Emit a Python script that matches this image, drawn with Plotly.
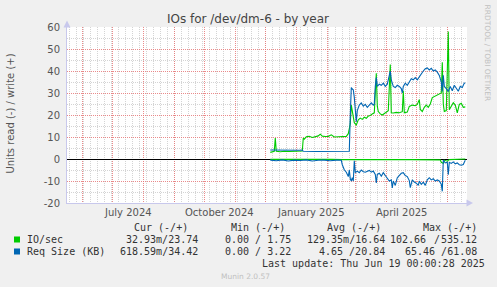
import plotly.graph_objects as go

# ---------------- data ----------------
io_write_dates = ["2024-12-06","2024-12-08","2024-12-10","2024-12-11","2024-12-12","2024-12-16","2024-12-20","2024-12-25","2024-12-30","2025-01-04","2025-01-07","2025-01-08","2025-01-09","2025-01-11","2025-01-14","2025-01-17","2025-01-20","2025-01-23","2025-01-25","2025-01-27","2025-01-30","2025-02-02","2025-02-05","2025-02-08","2025-02-12","2025-02-16","2025-02-20","2025-02-22","2025-02-24","2025-02-25","2025-02-26","2025-02-28","2025-03-02","2025-03-04","2025-03-06","2025-03-08","2025-03-10","2025-03-12","2025-03-14","2025-03-16","2025-03-18","2025-03-20","2025-03-22","2025-03-23","2025-03-24","2025-03-26","2025-03-28","2025-03-30","2025-04-01","2025-04-03","2025-04-05","2025-04-06","2025-04-08","2025-04-11","2025-04-14","2025-04-17","2025-04-18","2025-04-19","2025-04-22","2025-04-24","2025-04-27","2025-04-30","2025-05-02","2025-05-04","2025-05-05","2025-05-07","2025-05-09","2025-05-11","2025-05-13","2025-05-15","2025-05-17","2025-05-20","2025-05-23","2025-05-25","2025-05-26","2025-05-27","2025-05-28","2025-05-29","2025-05-31","2025-06-02","2025-06-03","2025-06-05","2025-06-07","2025-06-09","2025-06-11","2025-06-13","2025-06-15","2025-06-17","2025-06-19"]
io_write = [3.0,3.4,3.5,9.5,3.5,3.3,3.5,3.4,3.5,3.4,3.6,9.5,9.0,10.1,10.3,9.8,10.2,10.5,11.3,10.4,10.2,10.3,11.0,10.0,10.1,10.2,10.3,11.5,16,24.5,21,16.5,15.5,17.8,18.6,18.0,19.0,18.5,19.5,19.8,20.5,21.0,39,24,21.6,20.5,20.0,20.7,21,22,43,21,20.9,21.2,21.0,21.5,31,21,21.3,23.9,24.5,24.2,24.8,27,22.5,21.6,23.5,24.5,23.5,25,27.9,28.5,29.2,29.5,30,44,25,21.6,22,58,22.4,24,25.6,24.5,21,24.8,25.3,23.5,23.7]

io_read_dates = ["2024-12-06","2024-12-20","2025-01-05","2025-01-20","2025-02-05","2025-02-16","2025-02-25","2025-03-10","2025-03-25","2025-04-10","2025-04-25","2025-05-10","2025-05-20","2025-05-25","2025-05-26","2025-05-28","2025-05-29","2025-06-01","2025-06-03","2025-06-10","2025-06-15","2025-06-19"]
io_read = [0.15,0.1,0.15,0.1,0.15,0.3,0.35,0.3,0.25,0.3,0.3,0.25,0.3,0.4,1.5,2.0,0.5,1.0,0.3,0.2,0.3,0.03]

req_write_dates = ["2024-12-06","2024-12-15","2024-12-25","2025-01-05","2025-01-07","2025-01-08","2025-01-20","2025-02-01","2025-02-12","2025-02-23","2025-02-24","2025-02-25","2025-02-26","2025-02-27","2025-02-28","2025-03-02","2025-03-03","2025-03-05","2025-03-07","2025-03-09","2025-03-11","2025-03-13","2025-03-15","2025-03-17","2025-03-19","2025-03-20","2025-03-21","2025-03-22","2025-03-23","2025-03-25","2025-03-27","2025-03-29","2025-03-31","2025-04-02","2025-04-04","2025-04-05","2025-04-06","2025-04-08","2025-04-10","2025-04-12","2025-04-14","2025-04-16","2025-04-17","2025-04-18","2025-04-20","2025-04-22","2025-04-24","2025-04-26","2025-04-28","2025-04-30","2025-05-02","2025-05-04","2025-05-06","2025-05-08","2025-05-10","2025-05-12","2025-05-14","2025-05-16","2025-05-18","2025-05-20","2025-05-22","2025-05-24","2025-05-26","2025-05-27","2025-05-28","2025-05-29","2025-05-31","2025-06-02","2025-06-04","2025-06-06","2025-06-08","2025-06-10","2025-06-12","2025-06-14","2025-06-16","2025-06-18","2025-06-19"]
req_write = [4.1,4.0,4.1,4.0,4.1,3.5,3.4,3.5,3.5,3.5,20,32.5,31.8,31.5,28,17,22,24.5,25.5,24,24.8,23.5,24.5,25.5,24.5,25,33,37,33,34,33.5,34.5,33,34,38,40,36,33,32.5,33.5,33,32,30,33,34.5,33.5,35,36.5,36,37,36,37.5,38.5,40,41,41.4,40.5,41.2,40,40.5,39.5,38,35,30.7,38,33,32,30.7,33,31,33.5,32,30.8,33,32.5,34.5,34.4]

req_read_dates = ["2024-12-06","2024-12-12","2024-12-18","2024-12-24","2024-12-30","2025-01-05","2025-01-11","2025-01-17","2025-01-23","2025-01-29","2025-02-04","2025-02-10","2025-02-15","2025-02-16","2025-02-18","2025-02-20","2025-02-22","2025-02-23","2025-02-24","2025-02-25","2025-02-26","2025-02-27","2025-02-28","2025-03-01","2025-03-03","2025-03-05","2025-03-07","2025-03-09","2025-03-11","2025-03-13","2025-03-15","2025-03-17","2025-03-19","2025-03-21","2025-03-22","2025-03-23","2025-03-25","2025-03-27","2025-03-29","2025-03-31","2025-04-02","2025-04-04","2025-04-06","2025-04-07","2025-04-08","2025-04-10","2025-04-12","2025-04-14","2025-04-16","2025-04-18","2025-04-20","2025-04-22","2025-04-24","2025-04-25","2025-04-27","2025-04-29","2025-05-01","2025-05-03","2025-05-04","2025-05-06","2025-05-08","2025-05-10","2025-05-12","2025-05-14","2025-05-16","2025-05-18","2025-05-20","2025-05-22","2025-05-24","2025-05-26","2025-05-27","2025-05-28","2025-05-30","2025-06-01","2025-06-02","2025-06-03","2025-06-05","2025-06-07","2025-06-09","2025-06-11","2025-06-13","2025-06-15","2025-06-17","2025-06-18","2025-06-19"]
req_read = [0.5,0.8,0.4,0.9,0.5,0.7,0.4,0.9,0.6,0.5,0.8,0.5,0.6,2.6,4.9,6,8,5,9,10,8.5,10,0.8,6.2,5.5,6.2,5,5.8,6,5.5,5.2,6,5.5,7,10.9,7,6.5,7.8,6.2,7.5,8.5,10,9.5,13.2,10,12,8.5,7.6,6.5,6.2,7.5,8,9.8,13,9.5,10.5,11,12,10,11.5,10.5,12,9.5,8.5,9.5,9,10,9.5,10,11.5,14.7,0.5,1.8,1.5,7.1,1.5,2,1.3,2.2,1.8,2.6,2.8,2.5,1.5,0.62]

month_starts = ["2024-06-01","2024-07-01","2024-08-01","2024-09-01","2024-10-01","2024-11-01","2024-12-01","2025-01-01","2025-02-01","2025-03-01","2025-04-01","2025-05-01","2025-06-01"]
month_label_dates = ["2024-07-16 12:00","2024-10-16 12:00","2025-01-16 00:00","2025-04-16 00:00"]
month_labels = ["July 2024","October 2024","January 2025","April 2025"]
y_ticks = [-20,-10,0,10,20,30,40,50,60]
y_minor = [-15,-5,5,15,25,35,45,55]

legend_header = ["Cur (-/+)","Min (-/+)","Avg (-/+)","Max (-/+)"]
legend_io = ["32.93m/23.74","0.00 / 1.75","129.35m/16.64"]
legend_req = ["618.59m/34.42","0.00 / 3.22","4.65 /20.84","65.46 /61.08"]

GREEN = "#00cc00"
BLUE = "#0066b3"

# ------------- geometry helpers (pixel -> paper) -------------
W, H = 497, 287
L, R, T, B = 67, 467, 27, 203
def px(x):
    return (x - L) / (R - L)
def py(y):
    return (B - y) / (B - T)

fig = go.Figure()
fig.add_trace(go.Scatter(x=io_read_dates, y=[-v for v in io_read], mode="lines",
                         line=dict(color=GREEN, width=1.1), name="IO/sec read"))
fig.add_trace(go.Scatter(x=io_write_dates, y=io_write, mode="lines",
                         line=dict(color=GREEN, width=1.1), name="IO/sec write"))
fig.add_trace(go.Scatter(x=req_read_dates, y=[-v for v in req_read], mode="lines",
                         line=dict(color=BLUE, width=1.1), name="Req Size read"))
fig.add_trace(go.Scatter(x=req_write_dates, y=req_write, mode="lines",
                         line=dict(color=BLUE, width=1.1), name="Req Size write"))

MAJ = "rgba(230,110,110,0.8)"
MIN = "rgba(170,170,170,0.5)"
AX = "#c8c8ec"

fig.update_layout(
    width=W, height=H,
    margin=dict(l=L, r=W - R, t=T, b=H - B, pad=0),
    paper_bgcolor="#f0f0f0", plot_bgcolor="#ffffff",
    showlegend=False,
    font=dict(family="DejaVu Sans", size=10, color="#555555"),
    title=dict(text="IOs for /dev/dm-6 - by year", x=248 / W, xref="container",
               xanchor="center", y=1 - 19 / H, yref="container", yanchor="middle",
               font=dict(family="DejaVu Sans", size=12, color="#444444")),
    xaxis=dict(type="date", range=["2024-05-16 17:00", "2025-06-20 17:00"],
               tickmode="array", tickvals=month_starts, ticktext=[""] * len(month_starts),
               showgrid=True, gridcolor=MAJ, griddash="1px,1px", gridwidth=1,
               showline=True, linecolor=AX, linewidth=1, ticks="",
               minor=dict(dtick=7 * 86400000, tick0="2024-05-19", showgrid=True,
                          gridcolor=MIN, griddash="1px,1px", gridwidth=1, ticks=""),
               zeroline=False, fixedrange=True),
    yaxis=dict(range=[-20, 60], tickmode="array", tickvals=y_ticks,
               ticktext=[str(v) for v in y_ticks],
               showgrid=True, gridcolor=MAJ, griddash="1px,1px", gridwidth=1,
               minor=dict(tickmode="array", tickvals=y_minor, showgrid=True,
                          gridcolor=MIN, griddash="1px,1px", gridwidth=1, ticks=""),
               zeroline=True, zerolinecolor="#000000", zerolinewidth=1,
               showline=True, linecolor=AX, linewidth=1, ticks="",
               ticklabelstandoff=4,
               tickfont=dict(family="DejaVu Sans", size=10, color="#555555"),
               fixedrange=True),
)

annotations = []
# month labels (positioned with the date axis)
for d, t in zip(month_label_dates, month_labels):
    annotations.append(dict(x=d, xref="x", y=py(212.5), yref="paper", text=t,
                            showarrow=False, xanchor="center", yanchor="middle",
                            borderpad=0, borderwidth=0,
                            font=dict(family="DejaVu Sans", size=10, color="#555555")))

MONO = "DejaVu Sans Mono"
LEG = "#333333"
def txt(x, y, t, anchor="left", size=10, color=LEG, family=MONO, angle=0):
    annotations.append(dict(x=px(x), xref="paper", y=py(y), yref="paper", text=t,
                            showarrow=False, xanchor=anchor, yanchor="middle",
                            borderpad=0, borderwidth=0, textangle=angle,
                            font=dict(family=family, size=size, color=color)))

# y-axis title
txt(10.5, 114, "Units read (-) / write (+)", anchor="center", color="#555555",
    family="DejaVu Sans", angle=-90)
# legend header
for xl, t in zip([134, 231, 327, 423], legend_header):
    txt(xl, 227.5, t)
# row 1
txt(26.5, 239.5, "IO/sec")
for xr, t in zip([197.5, 291, 384.5], legend_io):
    txt(xr, 239.5, t, anchor="right")
txt(389.5, 239.5, "102.66")
txt(476.8, 239.5, "535.12", anchor="right")
txt(436.5, 239.5, "/", anchor="center")
# row 2
txt(26.5, 251.5, "Req Size (KB)")
for xr, t in zip([197.5, 291, 384.5, 476.8], legend_req):
    txt(xr, 251.5, t, anchor="right")
txt(262, 263.5, "Last update: Thu Jun 19 00:00:28 2025")
txt(245, 276.5, "Munin 2.0.57", anchor="center", size=7.5, color="#c0c0c0", family="DejaVu Sans")
txt(487.5, 53, "RRDTOOL / TOBI OETIKER", anchor="center", size=7.5, color="#c0c0c0",
    family="DejaVu Sans", angle=90)

fig.update_layout(annotations=annotations)

shapes = [
    # legend colour boxes
    dict(type="rect", xref="paper", yref="paper", x0=px(14), x1=px(20), y0=py(242.5), y1=py(236.5),
         fillcolor=GREEN, line=dict(width=0)),
    dict(type="rect", xref="paper", yref="paper", x0=px(14), x1=px(20), y0=py(254.5), y1=py(248.5),
         fillcolor=BLUE, line=dict(width=0)),
    # axis arrows
    dict(type="path", xref="paper", yref="paper",
         path=f"M {px(63.5)} {py(27.5)} L {px(70.5)} {py(27.5)} L {px(67)} {py(20.5)} Z",
         fillcolor=AX, line=dict(width=0)),
    dict(type="path", xref="paper", yref="paper",
         path=f"M {px(466.5)} {py(199.5)} L {px(466.5)} {py(206.5)} L {px(473)} {py(203)} Z",
         fillcolor=AX, line=dict(width=0)),
]
fig.update_layout(shapes=shapes)

fig.write_html("out.html")
